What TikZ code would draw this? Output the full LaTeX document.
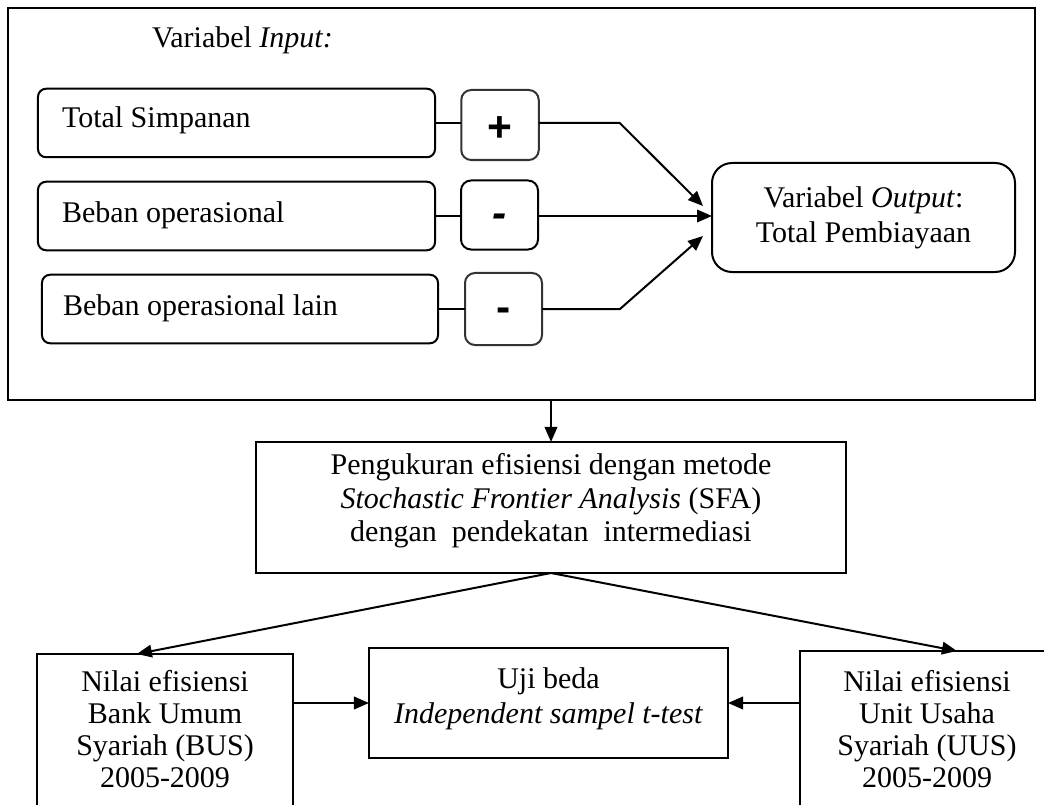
\documentclass[tikz,border=0pt]{standalone}
\usepackage{fontspec}
\setmainfont{Liberation Serif}
\newfontfamily\signfont{Liberation Sans}
\usetikzlibrary{arrows.meta,calc}
\begin{document}
\begin{tikzpicture}[x=0.4bp,y=-0.4bp, line width=0.8bp,
  txt/.style={font=\fontsize{12bp}{13.8bp}\selectfont, inner sep=0pt, outer sep=0pt},
  box/.style={draw, inner sep=0pt, outer sep=0pt},
  inbox/.style={box, rounded corners=3.2bp, minimum width=158.8bp, minimum height=27.4bp},
  signbox/.style={box, rounded corners=4bp, minimum width=31bp, minimum height=28bp,
    font=\signfont\fontsize{17bp}{17bp}\selectfont\bfseries},
  plusfix/.style={text height=13bp, text depth=0bp},
  minusfix/.style={text height=9.8bp, text depth=0bp},
  arr/.style={-{Triangle[length=6bp,width=5bp]}}
]
\useasboundingbox (0,0) rectangle (1044,805);
\fill[white] (0,0) rectangle (1044,805);
\clip (0,0) rectangle (1044,805);

% outer frame
\node[box, minimum width=410.8bp, minimum height=156.8bp] (frame) at (521.5,204) {};
\node[txt, anchor=base west] (tin) at (152,48) {Variabel \textit{Input:}};

% input boxes
\node[inbox] (in1) at (236.5,123) {};
\node[inbox] (in2) at (236.5,216) {};
\node[inbox, minimum width=158.4bp] (in3) at (240,309) {};
\node[txt, anchor=base west] (t1) at (62,128) {Total Simpanan};
\node[txt, anchor=base west] (t2) at (62,222) {Beban operasional};
\node[txt, anchor=base west] (t3) at (63,315) {Beban operasional lain};

% sign boxes
\node[signbox, plusfix, draw=black!80] (s1) at (500,125) {+};
\node[signbox, minusfix, minimum width=30.8bp, minimum height=27.6bp] (s2) at (499.5,215) {\itshape -};
\node[signbox, minusfix, draw=black!80, minimum width=30.8bp, minimum height=28.8bp] (s3) at (503.5,309) {-};

% output box
\node[box, rounded corners=8bp, minimum width=121.2bp, minimum height=43.6bp,
      txt, draw, align=center, font=\fontsize{12bp}{14bp}\selectfont] (out) at (863.5,217.5)
      {Variabel \textit{Output}:\\Total Pembiayaan};

% connectors in frame
\draw (in1.east) -- (in1.east -| s1.west);
\draw (in2.east) -- (in2.east -| s2.west);
\draw (in3.east) -- (in3.east -| s3.west);
\draw[arr] (s1.east |- in1.east) -- ++(81,0) -- ($(out.west)+(-9,-11.5)$);
\draw[arr] (s2.east |- in2.east) -- (out.west |- in2.east);
\draw[arr] (s3.east |- in3.east) -- ++(78,0) -- ($(out.west)+(-9,18.5)$);

% middle box
\node[box, minimum width=236bp, minimum height=52.4bp] (mid) at (551,507.5) {};
\node[txt, align=center, font=\fontsize{12bp}{13.4bp}\selectfont] (tmid) at (551,501)
  {Pengukuran efisiensi dengan metode\\\textit{Stochastic Frontier Analysis} (SFA)\\dengan~ pendekatan~ intermediasi};

\draw[arr] (frame.south -| mid.north) -- (mid.north);

% bottom boxes
\node[box, minimum width=102.4bp, minimum height=74.4bp] (bus) at (165,747) {};
\node[box, minimum width=143.6bp, minimum height=44bp] (uji) at (548.5,703) {};
\node[box, minimum width=101.6bp, minimum height=75.6bp] (uus) at (927,745.5) {};

\node[txt, align=center, font=\fontsize{12bp}{12.7bp}\selectfont] (tbus) at (165,729)
  {Nilai efisiensi\\Bank Umum\\Syariah (BUS)\\2005-2009};
\node[txt, align=center, font=\fontsize{12bp}{14bp}\selectfont] (tuji) at (548.5,699)
  {Uji beda\\\textit{Independent sampel t-test}};
\node[txt, align=center, font=\fontsize{12bp}{12.7bp}\selectfont] (tuus) at (927,729)
  {Nilai efisiensi\\Unit Usaha\\Syariah (UUS)\\2005-2009};

\draw[arr] (mid.south) -- ($(bus.north west)!0.39!(bus.north east)$);
\draw[arr] (mid.south) -- ($(uus.north west)!0.618!(uus.north east)$);
\draw[arr] (bus.east |- uji.west) -- (uji.west);
\draw[arr] (uus.west |- uji.east) -- (uji.east);
\end{tikzpicture}
\end{document}
